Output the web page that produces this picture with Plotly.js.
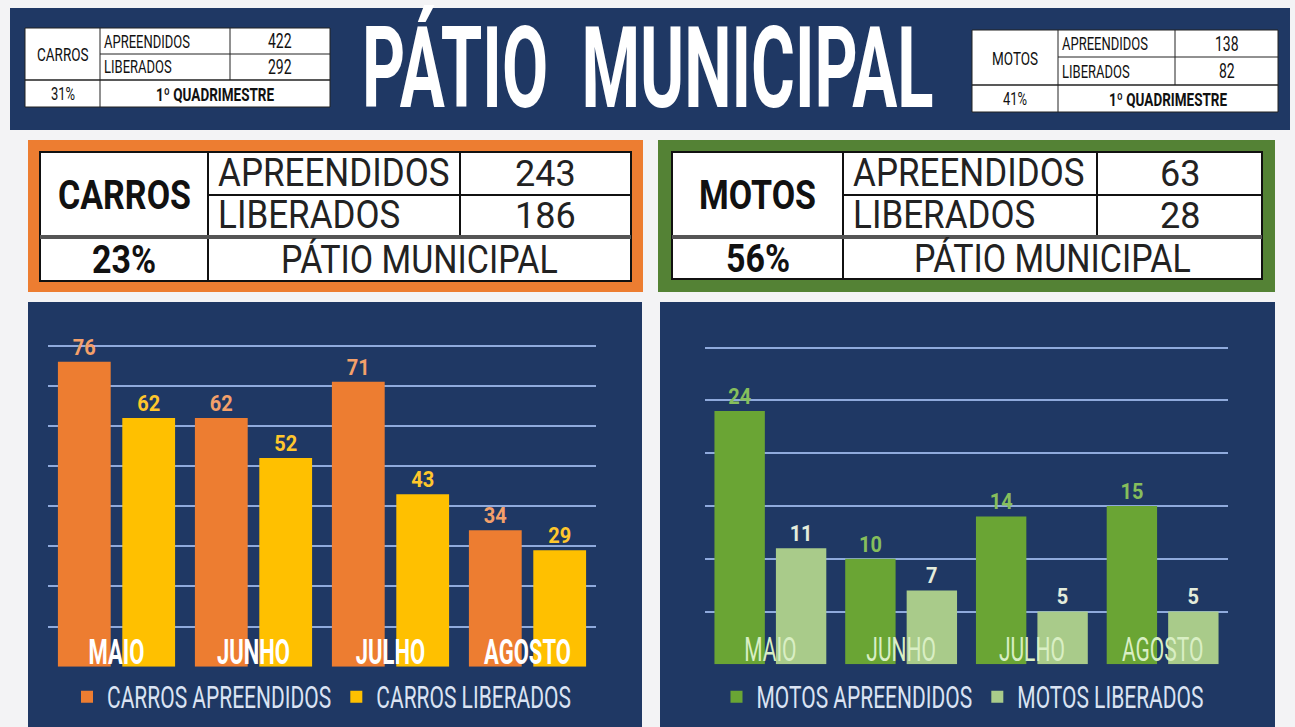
<!DOCTYPE html>
<html><head><meta charset="utf-8">
<script src="https://cdn.plot.ly/plotly-3.0.1.min.js"></script>
<style>html,body{margin:0;padding:0;background:#f3f3f5;overflow:hidden}#chart{width:1295px;height:727px}</style>
</head><body><div id="chart"></div>
<script>
// ---------- DATA ----------
const months = ['MAIO', 'JUNHO', 'JULHO', 'AGOSTO'];
const carrosApreendidos = [76, 62, 71, 34];
const carrosLiberados = [62, 52, 43, 29];
const motosApreendidos = [24, 10, 14, 15];
const motosLiberados = [11, 7, 5, 5];
const seriesNames = ['CARROS APREENDIDOS', 'CARROS LIBERADOS', 'MOTOS APREENDIDOS', 'MOTOS LIBERADOS'];
const rowLabels = ['APREENDIDOS', 'LIBERADOS'];
const quadCarros = [422, 292];
const quadMotos = [138, 82];
const quadPct = ['31%', '41%'];
const patioCarros = [243, 186];
const patioMotos = [63, 28];
const patioPct = ['23%', '56%'];
const groupNames = ['CARROS', 'MOTOS'];
const quadLabel = '1º QUADRIMESTRE';
const patioLabel = 'PÁTIO MUNICIPAL';
const titleText = 'PÁTIO\u00a0\u00a0MUNICIPAL';

// ---------- LAYOUT HELPERS ----------
const W = 1295, H = 727;
const X = p => p / W, Y = p => 1 - p / H;
const FONT = "Roboto, 'Liberation Sans', sans-serif";
const NAVY = '#1F3864';
const ORANGE = '#ED7D31', YELLOW = '#FFC000', GREEN = '#6AA534', LGREEN = '#A9CB8A';
const GRID = '#8FAADC';
const shapes = [], ann = [], annStretch = [];
function rect(x0, y0, x1, y1, fill, lc, lw) {
  shapes.push({type: 'rect', xref: 'paper', yref: 'paper', x0: X(x0), x1: X(x1), y0: Y(y1), y1: Y(y0),
    fillcolor: fill, line: {color: lc || fill, width: lw || 0}, layer: 'below'});
}
function line(x0, y0, x1, y1, color, w) {
  shapes.push({type: 'line', xref: 'paper', yref: 'paper', x0: X(x0), x1: X(x1), y0: Y(y0), y1: Y(y1),
    line: {color: color, width: w}, layer: 'below'});
}
function txt(s, x, y, size, o) {
  o = o || {};
  ann.push({text: String(s), xref: 'paper', yref: 'paper', x: X(x), y: Y(y), xanchor: o.anchor || 'center',
    yanchor: 'middle', showarrow: false,
    font: {family: FONT, size: size, color: o.color || '#111', weight: o.bold ? 'bold' : 'normal'}});
  annStretch.push(o.sy || 1);
}

// title
txt(titleText, 648, 68, 67, {bold: true, color: '#ffffff', sy: 1.68});

// header bar
rect(10, 8, 1290, 130, NAVY);

// small header tables
function smallTable(x0, x1, x2, x3, y0, y1, y2, y3, name, vals, pct) {
  rect(x0, y0, x3, y3, '#ffffff', '#222', 1);
  line(x1, y0, x1, y3, '#222', 1);
  line(x2, y0, x2, y2, '#222', 1);
  line(x1, y1, x3, y1, '#222', 1);
  line(x0, y2, x3, y2, '#222', 1.5);
  const s = 1.4;
  txt(name, (x0 + x1) / 2, (y0 + y2) / 2, 13.5, {sy: s});
  txt(rowLabels[0], x1 + 2, (y0 + y1) / 2, 13, {anchor: 'left', sy: s});
  txt(rowLabels[1], x1 + 2, (y1 + y2) / 2, 13, {anchor: 'left', sy: s});
  txt(vals[0], (x2 + x3) / 2, (y0 + y1) / 2, 14, {sy: s});
  txt(vals[1], (x2 + x3) / 2, (y1 + y2) / 2, 14, {sy: s});
  txt(pct, (x0 + x1) / 2, (y2 + y3) / 2, 13, {sy: s});
  txt(quadLabel, (x1 + x3) / 2, (y2 + y3) / 2, 13.5, {bold: true, sy: s});
}
smallTable(25, 100, 230, 330, 28, 54, 80, 107, groupNames[0], quadCarros, quadPct[0]);
smallTable(972, 1058, 1175, 1278, 30, 57, 85, 112, groupNames[1], quadMotos, quadPct[1]);

// middle summary boxes
function bigTable(bx0, bx1, frame, x0, x1, x2, x3, y0, y1, y2, y3, name, vals, pct) {
  rect(bx0, 140, bx1, 292, frame);
  rect(x0, y0, x3, y3, '#ffffff', '#111', 2);
  line(x1, y0, x1, y3, '#111', 2);
  line(x2, y0, x2, y2, '#111', 2);
  line(x1, y1, x3, y1, '#111', 2);
  line(x0, y2, x3, y2, '#555', 4);
  txt(name, (x0 + x1) / 2, (y0 + y2) / 2, 34, {bold: true, sy: 1.22});
  txt(rowLabels[0], x1 + 8, (y0 + y1) / 2, 35, {anchor: 'left', color: '#222', sy: 1.12});
  txt(rowLabels[1], x1 + 8, (y1 + y2) / 2, 35, {anchor: 'left', color: '#222', sy: 1.12});
  txt(vals[0], (x2 + x3) / 2, (y0 + y1) / 2, 36, {color: '#222'});
  txt(vals[1], (x2 + x3) / 2, (y1 + y2) / 2, 36, {color: '#222'});
  txt(pct, (x0 + x1) / 2, (y2 + y3) / 2, 34, {bold: true, sy: 1.15});
  txt(patioLabel, (x1 + x3) / 2, (y2 + y3) / 2, 34, {color: '#222', sy: 1.15});
}
bigTable(28, 643, ORANGE, 40, 208, 460, 631, 152, 195, 237, 281, groupNames[0], patioCarros, patioPct[0]);
bigTable(658, 1275, '#548235', 672, 843, 1097, 1262, 152, 195, 237, 279, groupNames[1], patioMotos, patioPct[1]);

// chart panels
rect(28, 302, 642, 727, NAVY);
rect(660, 302, 1275, 727, NAVY);

// ---------- TRACES ----------
function bar(y, name, color, labelColor, xa, ya, lg) {
  return {type: 'bar', x: months, y: y, name: name, xaxis: xa, yaxis: ya, legend: lg,
    marker: {color: color, line: {width: 0}},
    text: y.map(String), textposition: 'outside', cliponaxis: false, constraintext: 'none',
    textfont: {family: FONT, size: 20, color: labelColor, weight: 'bold'},
    hoverinfo: 'x+y'};
}
const data = [
  bar(carrosApreendidos, seriesNames[0], ORANGE, '#F4A06A', 'x', 'y', 'legend'),
  bar(carrosLiberados, seriesNames[1], YELLOW, '#FFC72C', 'x', 'y', 'legend'),
  bar(motosApreendidos, seriesNames[2], GREEN, '#86BE5C', 'x2', 'y2', 'legend2'),
  bar(motosLiberados, seriesNames[3], LGREEN, '#E4ECDC', 'x2', 'y2', 'legend2')
];

const xCommon = {type: 'category', showgrid: false, zeroline: false, showline: false, ticks: '',
  ticklabelposition: 'inside', fixedrange: true};
const yCommon = {showticklabels: false, showgrid: true, gridcolor: GRID, gridwidth: 2,
  zeroline: true, zerolinecolor: GRID, zerolinewidth: 2, ticks: '', fixedrange: true};
function legendOf(xc) {
  return {orientation: 'h', xanchor: 'center', yanchor: 'middle', y: Y(697), x: X(xc),
    bgcolor: 'rgba(0,0,0,0)', font: {family: FONT, size: 21, color: '#DAE3F3'}, itemclick: false};
}

// pixel scales of the two charts
const base1 = 666.7, ppu1 = 4.0125, top1 = 80.8;
const base2 = 664.3, ppu2 = 10.553, top2 = 30.4;

const layout = {
  width: W, height: H, margin: {l: 0, r: 0, t: 0, b: 0},
  paper_bgcolor: '#f3f3f5', plot_bgcolor: 'rgba(0,0,0,0)',
  barmode: 'group', bargap: 0.06, bargroupgap: 0.18,
  showlegend: true,
  xaxis: Object.assign({}, xCommon, {domain: [X(48), X(596)], anchor: 'y',
    tickfont: {family: FONT, size: 22, color: '#ffffff', weight: 'bold'}}),
  yaxis: Object.assign({}, yCommon, {domain: [Y(base1), Y(base1 - top1 * ppu1)], range: [0, top1], dtick: 10, anchor: 'x'}),
  xaxis2: Object.assign({}, xCommon, {domain: [X(705), X(1228)], anchor: 'y2',
    tickfont: {family: FONT, size: 21, color: '#D9EFC4'}}),
  yaxis2: Object.assign({}, yCommon, {domain: [Y(base2), Y(base2 - top2 * ppu2)], range: [0, top2], dtick: 5, anchor: 'x2'}),
  legend: legendOf(322),
  legend2: legendOf(963),
  shapes: shapes,
  annotations: ann
};

// vertical stretch to imitate the tall condensed display font of the original (idempotent)
function stretch(el, k) {
  try {
    const cur = el.getAttribute('transform') || '';
    if (el.__stretched !== undefined && cur === el.__stretched) return;
    const b = el.getBBox();
    if (!b.width) return;
    const cx = b.x + b.width / 2, cy = b.y + b.height / 2;
    const t = cur + ' translate(' + cx + ',' + cy + ') scale(1,' + k + ') translate(' + (-cx) + ',' + (-cy) + ')';
    el.setAttribute('transform', t);
    el.__stretched = el.getAttribute('transform');
  } catch (e) {}
}
function applyStretch(gd) {
  gd.querySelectorAll('.annotation').forEach(function (g) {
    const i = +g.getAttribute('data-index');
    const t = g.querySelector('text.annotation-text');
    if (t && annStretch[i] !== 1) stretch(t, annStretch[i]);
  });
  gd.querySelectorAll('.legend text, .legend2 text, text.legendtext').forEach(function (t) { stretch(t, 1.5); });
  gd.querySelectorAll('.xtick text, .x2tick text').forEach(function (t) { stretch(t, 1.6); });
  gd.querySelectorAll('text.bartext').forEach(function (t) { stretch(t, 1.12); });
}
const gdiv = document.getElementById('chart');
const obs = new MutationObserver(function () { applyStretch(gdiv); });
obs.observe(gdiv, {childList: true, subtree: true});
Plotly.newPlot(gdiv, data, layout, {displayModeBar: false, staticPlot: true}).then(function (gd) {
  applyStretch(gd);
  gd.on('plotly_afterplot', function () { applyStretch(gd); });
  requestAnimationFrame(function () { applyStretch(gd); });
  setTimeout(function () { applyStretch(gd); }, 50);
  setTimeout(function () { applyStretch(gd); }, 400);
});
</script>
</body></html>
